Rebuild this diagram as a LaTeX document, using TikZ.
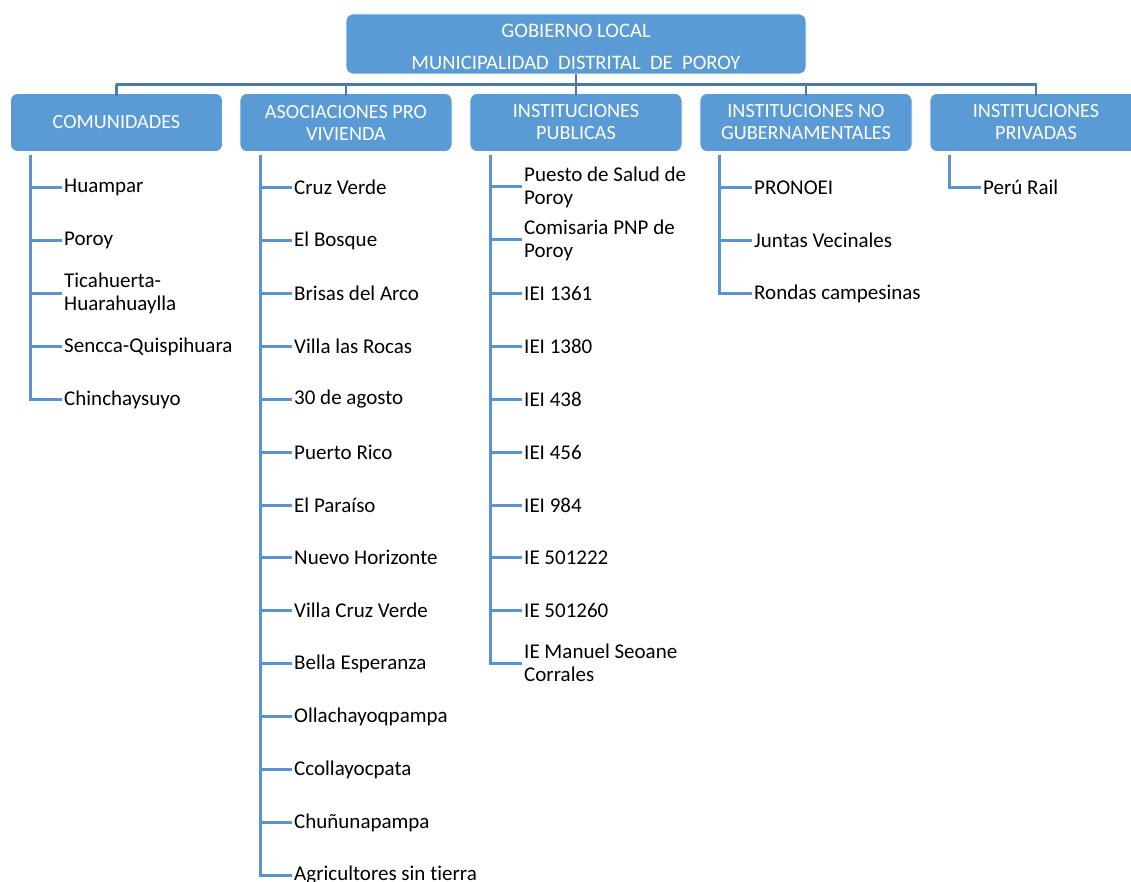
\documentclass[tikz,border=0pt]{standalone}
\usepackage{fontspec}
\setmainfont{Carlito}[RawFeature={-liga}]
\definecolor{boxblue}{HTML}{5B9BD5}
\definecolor{busblue}{HTML}{4A7AAE}
\definecolor{lineblue}{HTML}{5B93CF}
\begin{document}
\begin{tikzpicture}[x=1pt,y=-1pt,
  font=\fontsize{21}{23}\selectfont,
  topbox/.style={draw=white, line width=0.8pt, fill=boxblue, text=white, rounded corners=7pt,
    minimum width=460pt, minimum height=60pt, align=center, inner sep=0pt,
    font=\fontsize{20.6}{22.5}\selectfont},
  hdrbox/.style={draw=white, line width=0.8pt, fill=boxblue, text=white, rounded corners=7pt,
    minimum width=212pt, minimum height=58pt, align=center, inner sep=0pt,
    font=\fontsize{20.2}{22}\selectfont},
  item/.style={anchor=west, inner sep=0pt, align=left, text=black},
  bus/.style={draw=busblue, line width=2.2pt},
  child/.style={draw=lineblue, line width=3pt}]
\useasboundingbox (0,0) rectangle (1131,882);
\clip (0,0) rectangle (1131,882);
\fill[white] (0,0) rectangle (1131,882);

% top box
\node[topbox] (top) at (576,44) {\rule{0pt}{19pt}GOBIERNO LOCAL\\[9pt]MUNICIPALIDAD\ \ DISTRITAL\ \ DE\ \ POROY};

% headers
\node[hdrbox] (h1) at (116.5,122.5) {COMUNIDADES};
\node[hdrbox] (h2) at (346,122.5) {ASOCIACIONES PRO\\VIVIENDA};
\node[hdrbox] (h3) at (576,122.5) {INSTITUCIONES\\PUBLICAS};
\node[hdrbox] (h4) at (806,122.5) {INSTITUCIONES NO\\GUBERNAMENTALES};
\node[hdrbox] (h5) at (1036,122.5) {INSTITUCIONES\\PRIVADAS};

% bus
\coordinate (busL) at (116,84.5);
\coordinate (busR) at (1036,84.5);
\draw[bus] (top.south) -- ([yshift=-2pt]h3.north);
\draw[bus] ([yshift=-3pt]h1.north) |- (busL) -- (busR) -- ([yshift=-3pt]h5.north);
\draw[bus] ([yshift=-3pt]h2.north) -- (h2.north |- busL);
\draw[bus] ([yshift=-3pt]h4.north) -- (h4.north |- busL);

% column 1
\node[item] (c1a) at (64,187.5) {Huampar};
\node[item] (c1b) at (64,240.5) {Poroy};
\node[item] (c1c) at (64,293.5) {Ticahuerta-\\Huarahuaylla};
\node[item] (c1d) at (64,346.5) {Sencca-Quispihuara};
\node[item] (c1e) at (64,399.5) {Chinchaysuyo};
\foreach \n in {c1a,c1b,c1c,c1d,c1e}
  \draw[child] ([xshift=20pt,yshift=-3pt]h1.south west) |- ([xshift=-2pt]\n.west);

% column 2
\node[item] (c2a) at (294,187.5) {Cruz Verde};
\node[item] (c2b) at (294,240.5) {El Bosque};
\node[item] (c2c) at (294,293.5) {Brisas del Arco};
\node[item] (c2d) at (294,346.5) {Villa las Rocas};
\node[item] (c2e) at (294,399.5) {30 de agosto};
\node[item] (c2f) at (294,452.5) {Puerto Rico};
\node[item] (c2g) at (294,505.5) {El Paraíso};
\node[item] (c2h) at (294,557.5) {Nuevo Horizonte};
\node[item] (c2i) at (294,610.5) {Villa Cruz Verde};
\node[item] (c2j) at (294,663.5) {Bella Esperanza};
\node[item] (c2k) at (294,716.5) {Ollachayoqpampa};
\node[item] (c2l) at (294,769.5) {Ccollayocpata};
\node[item] (c2m) at (294,822.5) {Chuñunapampa};
\node[item] (c2n) at (294,875.5) {Agricultores sin tierra};
\foreach \n in {c2a,c2b,c2c,c2d,c2e,c2f,c2g,c2h,c2i,c2j,c2k,c2l,c2m,c2n}
  \draw[child] ([xshift=21pt,yshift=-3pt]h2.south west) |- ([xshift=-2pt]\n.west);

% column 3
\node[item] (c3a) at (524,187) {Puesto de Salud de\\Poroy};
\node[item] (c3b) at (524,240) {Comisaria PNP de\\Poroy};
\node[item] (c3c) at (524,293.5) {IEI 1361};
\node[item] (c3d) at (524,346.5) {IEI 1380};
\node[item] (c3e) at (524,399.5) {IEI 438};
\node[item] (c3f) at (524,452.5) {IEI 456};
\node[item] (c3g) at (524,505.5) {IEI 984};
\node[item] (c3h) at (524,557.5) {IE 501222};
\node[item] (c3i) at (524,610.5) {IE 501260};
\node[item] (c3j) at (524,663) {IE Manuel Seoane\\Corrales};
\foreach \n in {c3a,c3b,c3c,c3d,c3e,c3f,c3g,c3h,c3i,c3j}
  \draw[child] ([xshift=21pt,yshift=-3pt]h3.south west) |- ([xshift=-2pt]\n.west);

% column 4
\node[item] (c4a) at (754,187.5) {PRONOEI};
\node[item] (c4b) at (754,240.5) {Juntas Vecinales};
\node[item] (c4c) at (754,293.5) {Rondas campesinas};
\foreach \n in {c4a,c4b,c4c}
  \draw[child] ([xshift=20pt,yshift=-3pt]h4.south west) |- ([xshift=-2pt]\n.west);

% column 5
\node[item] (c5a) at (983,187.5) {Perú Rail};
\draw[child] ([xshift=20pt,yshift=-3pt]h5.south west) |- ([xshift=-2pt]c5a.west);
\end{tikzpicture}
\end{document}
